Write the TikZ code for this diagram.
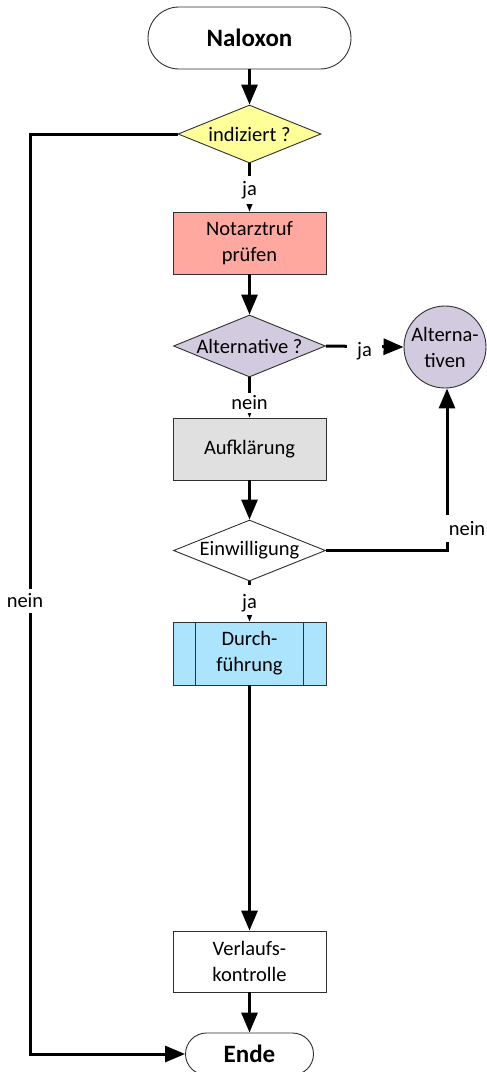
\documentclass[tikz,border=0pt]{standalone}
\usepackage{fontspec}
\setmainfont{Carlito}
\usetikzlibrary{shapes.geometric,arrows.meta}
\definecolor{cyellow}{HTML}{FFFF99}
\definecolor{csalmon}{HTML}{FFA8A0}
\definecolor{clav}{HTML}{D2CADE}
\definecolor{cgray}{HTML}{E0E0E0}
\definecolor{cblue}{HTML}{ADE4FD}
\definecolor{cborder}{HTML}{303030}
\begin{document}
\begin{tikzpicture}[x=1pt,y=-1pt,
  base/.style={draw=cborder, line width=0.9pt, inner sep=0pt,
    font=\fontsize{20.5}{26}\selectfont},
  term/.style={base, rectangle, font=\bfseries\fontsize{25}{30}\selectfont},
  proc/.style={base, rectangle, align=center, minimum width=153pt, minimum height=62pt},
  dec/.style={base, diamond},
  conn/.style={line width=3pt, -{Triangle[length=20pt,width=16pt]}},
  lab/.style={fill=white, inner sep=5pt, font=\fontsize{20.5}{26}\selectfont}
]
\useasboundingbox (0,0) rectangle (487,1072);
\fill[white] (0,0) rectangle (487,1072);

% nodes
\node[term, minimum width=203pt, minimum height=62pt, rounded corners=31pt] (start) at (249.5,38) {Naloxon};
\node[dec, fill=cyellow, minimum width=143pt, minimum height=58pt] (ind) at (249.5,134) {\makebox[0pt]{indiziert ?}};
\node[proc, fill=csalmon] (not) at (249.5,243) {Notarztruf\\prüfen};
\node[dec, fill=clav, minimum width=152pt, minimum height=62pt] (alt) at (249.5,346) {\makebox[0pt]{Alternative ?}};
\node[base, circle, fill=clav, minimum size=82pt, align=center] (altc) at (445,347) {Alterna-\\tiven};
\node[proc, fill=cgray] (auf) at (249.5,449) {Aufklärung};
\node[dec, fill=white, minimum width=152pt, minimum height=61pt] (ein) at (249.5,550.5) {\makebox[0pt]{Einwilligung}};
\node[proc, fill=cblue, minimum height=63pt] (durch) at (249.5,653.5) {Durch-\\führung};
\draw[cborder, line width=0.9pt] ([xshift=23pt]durch.north west) -- ([xshift=23pt]durch.south west)
  ([xshift=-23pt]durch.north east) -- ([xshift=-23pt]durch.south east);
\node[proc, fill=white, minimum height=61pt] (verl) at (249.5,961.5) {Verlaufs-\\kontrolle};
\node[term, minimum width=128pt, minimum height=42pt, rounded corners=21pt] (ende) at (249.5,1054) {Ende};

% helper coordinates
\coordinate (lc1) at (30,134);
\coordinate (lc2) at (30,1054);
\coordinate (rc) at (447,550.5);

% connectors
\draw[conn] (start) -- (ind);
\draw[conn] (ind.west) -- (lc1) -- (lc2) -- (ende.west);
\draw[conn] (ind) -- (not);
\draw[conn] (not) -- (alt);
\draw[conn] (alt.east) -- (altc.west);
\draw[conn] (alt) -- (auf);
\draw[conn] (auf) -- (ein);
\draw[conn] (ein.east) -- (rc) -- (rc |- altc.south);
\draw[conn] (ein) -- (durch);
\draw[conn] (durch) -- (verl);
\draw[conn] (verl) -- (ende);

% labels
\node[lab] (l1) at (249.5,190) {ja};
\node[lab, inner xsep=10pt] (l2) at (364.5,351) {ja};
\node[lab, inner ysep=3pt] (l3) at (249.5,403) {nein};
\node[lab, inner ysep=6pt] (l4) at (467,528.5) {nein};
\node[lab, inner ysep=3pt, text height=20pt, text depth=4pt, anchor=base] (l5) at (249.5,608) {ja};
\node[lab] (l6) at (25,601) {nein};
\end{tikzpicture}
\end{document}
